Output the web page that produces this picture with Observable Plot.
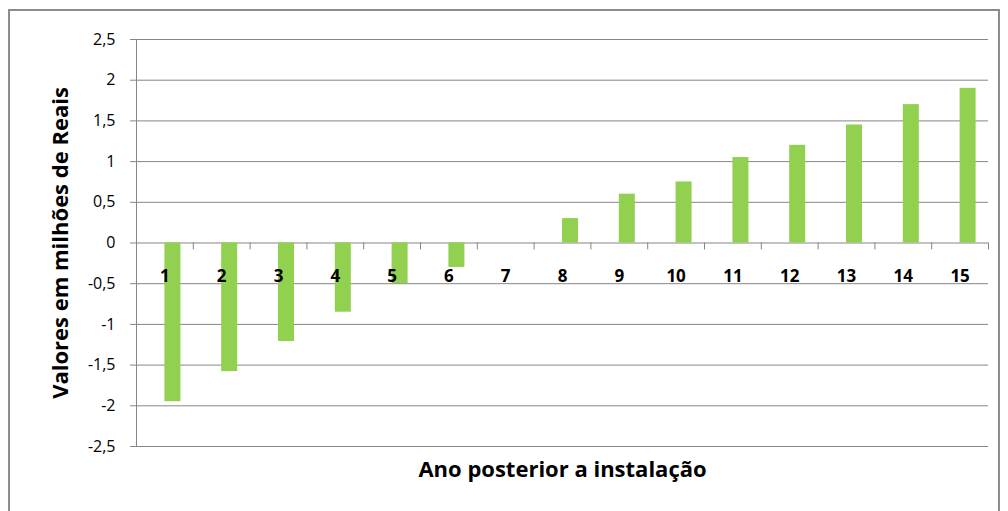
<!DOCTYPE html>
<html>
<head>
<meta charset="utf-8">
<script src="https://cdn.jsdelivr.net/npm/d3@7"></script>
<script src="https://cdn.jsdelivr.net/npm/@observablehq/plot@0.6"></script>
<style>
  html, body { margin: 0; padding: 0; background: #fff; }
  #wrap { position: relative; width: 1008px; height: 511px; overflow: hidden; }
  #border { position: absolute; left: 8px; top: 9px; width: 992px; height: 520px;
            border: 2px solid #8c8c8c; box-sizing: border-box; pointer-events: none; }
  #chart { position: absolute; left: 0; top: 0; }
</style>
</head>
<body>
<div id="wrap"><div id="chart"></div><div id="border"></div></div>
<script>
// Years after installation and the net value (millions of reais) for each
const anos = [1, 2, 3, 4, 5, 6, 7, 8, 9, 10, 11, 12, 13, 14, 15];
const valores = [-1.95, -1.58, -1.21, -0.85, -0.5, -0.3, 0, 0.3, 0.6, 0.75, 1.05, 1.2, 1.45, 1.7, 1.9];
const yTicks = [-2.5, -2, -1.5, -1, -0.5, 0, 0.5, 1, 1.5, 2, 2.5];
const tituloX = "Ano posterior a instalação";
const tituloY = "Valores em milhões de Reais";

const data = anos.map((a, i) => ({ano: a, valor: valores[i]}));

const W = 1008, H = 511;
const mL = 136, mR = 20, mT = 39, mB = 65;
const band = (W - mL - mR) / anos.length;
const barW = 16;
const font = "'Open Sans', sans-serif";
const fmt = d => String(d).replace(".", ",");

const chart = Plot.plot({
  width: W,
  height: H,
  marginLeft: mL,
  marginRight: mR,
  marginTop: mT,
  marginBottom: mB,
  style: {fontFamily: font, background: "transparent"},
  x: {type: "band", domain: anos, padding: 0, round: false, axis: null},
  y: {domain: [-2.5, 2.5], axis: null},
  marks: [
    // horizontal gridlines
    Plot.ruleY(yTicks, {stroke: "#868686", strokeWidth: 1}),
    // bars sit in the right half of each category slot
    Plot.barY(data, {
      x: "ano", y: "valor",
      fill: "#92d050",
      insetLeft: band / 2,
      insetRight: band / 2 - barW
    }),
    // vertical axis line
    Plot.ruleX([anos[0]], {y1: -2.5, y2: 2.5, dx: -band / 2, stroke: "#868686"}),
    // category boundary ticks hanging below the zero line
    Plot.ruleX(anos, {y1: 0, y2: -0.085, dx: -band / 2, stroke: "#868686"}),
    Plot.ruleX([anos[anos.length - 1]], {y1: 0, y2: -0.085, dx: band / 2, stroke: "#868686"}),
    // y ticks and labels
    Plot.axisY({ticks: yTicks, tickFormat: fmt, tickSize: 6, tickPadding: 15,
                fontSize: 16, stroke: "#868686", color: "#000", label: null, fontFamily: font}),
    // category labels under the zero line
    Plot.text(anos, {x: d => d, y: 0, dy: 34, text: d => String(d),
                     fontWeight: "bold", fontSize: 17, fill: "#000"}),
    // axis titles
    Plot.text([tituloX], {frameAnchor: "bottom", lineAnchor: "middle", dy: 23,
                          fontWeight: "bold", fontSize: 22, fill: "#000"}),
    Plot.text([tituloY], {frameAnchor: "left", textAnchor: "middle", lineAnchor: "middle",
                          dx: -76, dy: 0, rotate: -90,
                          fontWeight: "bold", fontSize: 22, fill: "#000"})
  ]
});
document.getElementById("chart").appendChild(chart);
</script>
</body>
</html>
